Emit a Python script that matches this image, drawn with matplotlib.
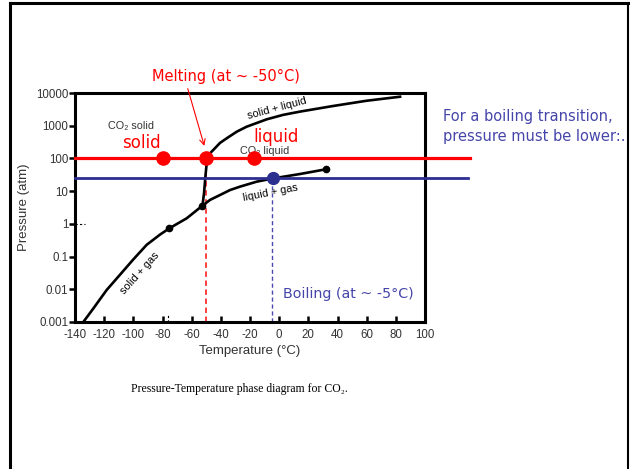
import matplotlib
matplotlib.use('Agg')
import matplotlib.pyplot as plt
from matplotlib.lines import Line2D

plt.rcParams['font.family'] = ['Liberation Sans', 'DejaVu Sans']

# 상평형 곡선 데이터
subl_T = [-134.3, -127.4, -118.3, -109.1, -100.0, -90.8, -81.7, -75.3, -63.4, -52.6]
subl_P = [0.001, 0.0026, 0.0095, 0.028, 0.082, 0.23, 0.47, 0.73, 1.48, 3.6]

melt_T = [-52.6, -51.5, -50.6, -49.7, -48.6, -45.2, -40.6, -36.0, -29.1, -22.3,
          -8.5, 2.6, 14.3, 36.9, 60.0, 82.9]
melt_P = [3.6, 8.8, 27.6, 70, 127, 181, 297, 412, 656, 933,
          1570, 2140, 2700, 4000, 5800, 7700]

vap_T = [-52.6, -47.4, -40.6, -33.7, -26.9, -15.4, -4.0, 14.3, 32.1]
vap_P = [3.6, 5.4, 7.6, 10.8, 13.7, 19.5, 24.6, 33.4, 46.6]

# 특별한 점들: 승화점, 삼중점, 임계점
special_T = [-75.3, -52.6, 32.1]
special_P = [0.73, 3.6, 46.6]

# 녹는 과정 (빨강), 끓는 과정 (파랑)
melt_line_P = 100
melt_dots_T = [-80, -50, -17]
T_melt = -50
boil_line_P = 25
boil_dot_T = -4
T_boil = -5

x_ticks = [-140, -120, -100, -80, -60, -40, -20, 0, 20, 40, 60, 80, 100]
y_ticks = [0.001, 0.01, 0.1, 1, 10, 100, 1000, 10000]
y_labels = ['0.001', '0.01', '0.1', '1', '10', '100', '1000', '10000']

RED = '#ff0000'
NAVY = '#2b2f8f'
BLUE_TXT = '#4545aa'
GRAY = '#333333'

fig = plt.figure(figsize=(6.38, 4.69), dpi=100)
ax = fig.add_axes([75 / 638, 1 - 322 / 469, 350 / 638, 229 / 469])

ax.plot(subl_T, subl_P, color='black', lw=1.9, zorder=3)
ax.plot(melt_T, melt_P, color='black', lw=1.9, zorder=3)
ax.plot(vap_T, vap_P, color='black', lw=1.9, zorder=3)
ax.plot(special_T, special_P, 'o', color='black', ms=4.5, zorder=4)

# 1 atm 보조 점선
ax.plot([-140, -133], [1, 1], color='black', lw=0.8, ls=(0, (2, 2)), zorder=3)
ax.plot([-76, -76], [0.001, 0.0016], color='black', lw=0.8, ls=(0, (2, 2)), zorder=3)

# 수평선 (범위 밖으로 연장)
ax.plot([-140, 131], [melt_line_P, melt_line_P], color=RED, lw=2.3, clip_on=False, zorder=5)
ax.plot([-140, 129.5], [boil_line_P, boil_line_P], color=NAVY, lw=2.0, clip_on=False, zorder=5)

# 수직 점선
ax.plot([T_melt, T_melt], [0.001, melt_line_P], color='#ff3030', lw=1.3, ls=(0, (3, 2)), zorder=2)
ax.plot([T_boil, T_boil], [0.001, boil_line_P], color='#4a4ab0', lw=1.0, ls=(0, (3, 2)), zorder=2)

ax.plot(melt_dots_T, [melt_line_P] * len(melt_dots_T), 'o', color=RED, ms=9.5, zorder=6)
ax.plot([boil_dot_T], [boil_line_P], 'o', color=NAVY, ms=8.5, zorder=6)

ax.set_xlim(-140, 100)
ax.set_yscale('log')
ax.set_ylim(0.001, 10000)
ax.set_xticks(x_ticks)
ax.set_xticklabels([str(t) for t in x_ticks])
ax.set_yticks(y_ticks)
ax.set_yticklabels(y_labels)
ax.minorticks_off()
ax.tick_params(axis='x', direction='in', length=4, width=1.8, labelsize=8.3, pad=5, colors=GRAY)
ax.tick_params(axis='x', color='black')
ax.tick_params(axis='y', direction='out', length=4, width=1.8, labelsize=8.3, pad=1, colors=GRAY)
ax.tick_params(axis='y', color='black')
for s in ax.spines.values():
    s.set_linewidth(2.2)

ax.set_xlabel('Temperature (°C)', fontsize=9.5, color=GRAY, labelpad=3)
ax.set_ylabel('Pressure (atm)', fontsize=9.5, color=GRAY, labelpad=4)

# 영역 라벨
ax.text(-1.5, 3470, 'solid + liquid', fontsize=7.8, rotation=15, ha='center', va='center')
ax.text(-6.3, 9.2, 'liquid + gas', fontsize=7.8, rotation=11, ha='center', va='center')
ax.text(-95.4, 0.031, 'solid + gas', fontsize=7.8, rotation=48, ha='center', va='center')
ax.text(-101.6, 980, 'CO₂ solid', fontsize=7.8, color=GRAY, ha='center', va='center')
ax.text(-9.7, 169, 'CO₂ liquid', fontsize=7.8, color=GRAY, ha='center', va='center', zorder=4)

ax.text(-94.7, 297, 'solid', fontsize=12, color=RED, ha='center', va='center', family='DejaVu Sans')
ax.text(-2.2, 453, 'liquid', fontsize=12, color=RED, ha='center', va='center', family='DejaVu Sans')
ax.text(47.2, 0.0072, 'Boiling (at ~ -5°C)', fontsize=10.3, color=BLUE_TXT, ha='center', va='center',
        family='DejaVu Sans')

# 화살표와 바깥 텍스트
ax.annotate('', xy=(-50.8, 200), xytext=(187 / 638, 1 - 86 / 469), textcoords='figure fraction',
            arrowprops=dict(arrowstyle='->', color=RED, lw=0.8), zorder=7)
fig.text(226 / 638, 1 - 76 / 469, 'Melting (at ~ -50°C)', fontsize=10.5, color=RED,
         ha='center', va='center', family='DejaVu Sans')
fig.text(443 / 638, 1 - 117 / 469, 'For a boiling transition,', fontsize=10.5, color=BLUE_TXT,
         ha='left', va='center', family='DejaVu Sans')
fig.text(443 / 638, 1 - 137 / 469, 'pressure must be lower:.', fontsize=10.5, color=BLUE_TXT,
         ha='left', va='center', family='DejaVu Sans')
fig.text(131 / 638, 1 - 389 / 469, 'Pressure-Temperature phase diagram for CO₂.', fontsize=8.5,
         ha='left', va='center', family=['Liberation Serif', 'DejaVu Serif'])

# 슬라이드 테두리
fig.add_artist(Line2D([9.5 / 638, 9.5 / 638], [0, 1 - 3.5 / 469], transform=fig.transFigure,
                      color='black', lw=2.2))
fig.add_artist(Line2D([9.5 / 638, 628 / 638], [1 - 3.5 / 469, 1 - 3.5 / 469], transform=fig.transFigure,
                      color='black', lw=2.2))
fig.add_artist(Line2D([628 / 638, 628 / 638], [0, 1 - 3.5 / 469], transform=fig.transFigure,
                      color='black', lw=1.5))

fig.savefig('out.png', dpi=100)
